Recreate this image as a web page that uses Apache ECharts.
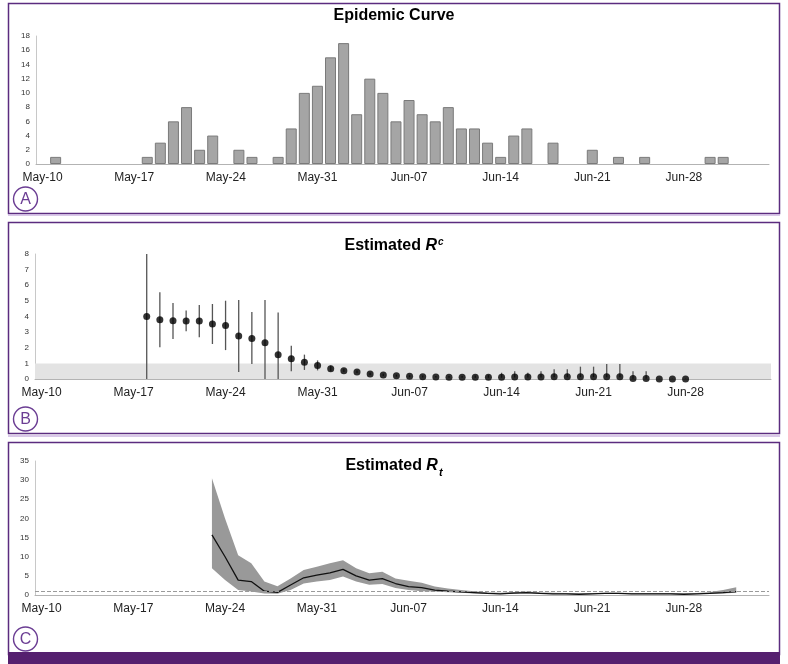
<!DOCTYPE html>
<html>
<head>
<meta charset="utf-8">
<title>Epidemic Curve</title>
<script src="https://cdn.jsdelivr.net/npm/echarts@6/dist/echarts.min.js"></script>
<style>
html, body { margin: 0; padding: 0; background: #fff; }
#chart { width: 788px; height: 664px; }
</style>
</head>
<body>
<div id="chart"></div>
<script>
// x categories: one per day, May-10 .. Jul-04
var days = [
    'May-10', 'May-11', 'May-12', 'May-13', 'May-14', 'May-15', 'May-16', 'May-17', 'May-18', 'May-19',
    'May-20', 'May-21', 'May-22', 'May-23', 'May-24', 'May-25', 'May-26', 'May-27', 'May-28', 'May-29',
    'May-30', 'May-31', 'Jun-01', 'Jun-02', 'Jun-03', 'Jun-04', 'Jun-05', 'Jun-06', 'Jun-07', 'Jun-08',
    'Jun-09', 'Jun-10', 'Jun-11', 'Jun-12', 'Jun-13', 'Jun-14', 'Jun-15', 'Jun-16', 'Jun-17', 'Jun-18',
    'Jun-19', 'Jun-20', 'Jun-21', 'Jun-22', 'Jun-23', 'Jun-24', 'Jun-25', 'Jun-26', 'Jun-27', 'Jun-28',
    'Jun-29', 'Jun-30', 'Jul-01', 'Jul-02', 'Jul-03', 'Jul-04'
];

// panel A - daily cases
var cases = [
    0, 1, 0, 0, 0, 0, 0, 0, 1, 3, 6, 8, 2, 4, 0, 2, 1, 0, 1, 5,
    10, 11, 15, 17, 7, 12, 10, 6, 9, 7, 6, 8, 5, 5, 3, 1, 4, 5, 0, 3,
    0, 0, 2, 0, 1, 0, 1, 0, 0, 0, 0, 1, 1, 0, 0, 0
];

// panel B - estimated Rc, starts at May-18
var rcStart = 8;
var rcMean = [4.0, 3.8, 3.73, 3.71, 3.71, 3.52, 3.43, 2.75, 2.6, 2.32, 1.56, 1.3, 1.07, 0.87, 0.66, 0.53, 0.45, 0.32, 0.26, 0.21,
    0.17, 0.15, 0.13, 0.11, 0.11, 0.11, 0.11, 0.11, 0.13, 0.13, 0.13, 0.15, 0.15, 0.15, 0.15, 0.15, 0.15, 0.04, 0.04, 0, 0, 0];
var rcLow = [0, 2.03, 2.56, 3.05, 2.67, 2.24, 1.85, 0.45, 0.96, 0, 0, 0.49, 0.58, 0.55, 0.49, 0.45, 0.38, 0.25, 0.2, 0.15,
    0.12, 0.1, 0.09, 0.08, 0.08, 0.08, 0.08, 0.08, 0.1, 0.1, 0.1, 0.12, 0.12, 0.12, 0.12, 0.12, 0.12, 0.02, 0.02, 0, 0, 0];
var rcHigh = [8, 5.56, 4.86, 4.39, 4.73, 4.8, 5.01, 5.05, 4.29, 5.05, 4.26, 2.13, 1.56, 1.19, 0.87, 0.65, 0.55, 0.4, 0.33, 0.28,
    0.24, 0.22, 0.2, 0.2, 0.2, 0.22, 0.25, 0.4, 0.49, 0.4, 0.49, 0.62, 0.62, 0.79, 0.79, 0.96, 0.96, 0.49, 0.49, 0.02, 0.02, 0.02];

// panel C - estimated Rt, starts at May-23
var rtStart = 13;
var rtMean = [15.7, 10.0, 3.9, 3.5, 1.0, 0.7, 2.6, 4.5, 5.2, 5.8, 6.7, 5.0, 3.9, 4.3, 3.0, 2.2, 1.9, 1.3, 1.0, 0.8,
    0.6, 0.4, 0.3, 0.5, 0.6, 0.4, 0.3, 0.3, 0.2, 0.3, 0.4, 0.4, 0.3, 0.3, 0.3, 0.3, 0.2, 0.3, 0.4, 0.6, 0.9];
var rtLow = [7.0, 3.9, 1.3, 0.9, 0.4, 0.3, 1.3, 3.0, 3.5, 3.9, 4.8, 3.5, 2.7, 2.9, 1.8, 1.3, 1.0, 0.9, 0.7, 0.6,
    0.4, 0.3, 0.2, 0.3, 0.4, 0.3, 0.2, 0.2, 0.1, 0.2, 0.3, 0.3, 0.2, 0.2, 0.2, 0.2, 0.1, 0.2, 0.3, 0.4, 0.6];
var rtHigh = [30.5, 20.0, 10.4, 8.3, 3.5, 2.3, 4.3, 6.5, 7.4, 8.3, 9.1, 7.0, 5.7, 6.1, 4.3, 3.7, 3.2, 2.2, 1.7, 1.3,
    1.0, 0.7, 0.6, 0.8, 0.9, 0.7, 0.6, 0.5, 0.4, 0.5, 0.6, 0.6, 0.5, 0.5, 0.5, 0.5, 0.4, 0.5, 0.8, 1.3, 2.0];

var FONT = "'Liberation Sans', Arial, sans-serif";
var PURPLE = '#5b2c7f';

// spread a series that starts at some day over the full day list
function pad(arr, start) {
    var out = [];
    for (var i = 0; i < days.length; i++) {
        var k = i - start;
        out.push(k >= 0 && k < arr.length ? arr[k] : '-');
    }
    return out;
}

var rtBandWidth = rtHigh.map(function(v, i) { return +(v - rtLow[i]).toFixed(2); });
var rcBars = rcMean.map(function(v, i) { return [rcStart + i, rcLow[i], rcHigh[i]]; });

function xAxis(idx) {
    return {
        type: 'category',
        gridIndex: idx,
        data: days,
        boundaryGap: true,
        axisLine: { lineStyle: { color: '#b3b3b3', width: 1 } },
        axisTick: { interval: 6, alignWithLabel: false, length: 3, lineStyle: { color: '#b3b3b3' } },
        axisLabel: { interval: 6, margin: 8, fontSize: 12, color: '#222', fontFamily: FONT }
    };
}
function yAxis(idx, max, step) {
    return {
        type: 'value',
        gridIndex: idx,
        min: 0, max: max, interval: step,
        splitLine: { show: false },
        axisLine: { show: true, lineStyle: { color: '#c8c8c8', width: 1 } },
        axisTick: { show: false },
        axisLabel: { fontSize: 8, color: '#333', margin: 6, fontFamily: FONT }
    };
}

function badge(letter, cy) {
    return {
        type: 'group',
        children: [
            { type: 'circle', shape: { cx: 25.5, cy: cy, r: 12 }, style: { fill: '#fff', stroke: '#6b3d93', lineWidth: 1.4 } },
            { type: 'text', x: 25.5, y: cy + 1, style: { text: letter, fill: '#6b3d93', font: "16px 'Liberation Sans Narrow', 'Liberation Sans', sans-serif", align: 'center', verticalAlign: 'middle' } }
        ]
    };
}

var titleRich = {
    b: { fontSize: 16, fontWeight: 'bold', fontFamily: FONT, color: '#000', verticalAlign: 'bottom' },
    bl: { fontSize: 16, fontWeight: 'bold', fontFamily: FONT, color: '#000', verticalAlign: 'bottom', padding: [0, 0, 4, 0] },
    r: { fontSize: 16, fontWeight: 'bold', fontStyle: 'italic', fontFamily: FONT, color: '#000', verticalAlign: 'bottom' },
    rl: { fontSize: 16, fontWeight: 'bold', fontStyle: 'italic', fontFamily: FONT, color: '#000', verticalAlign: 'bottom', padding: [0, 0, 4, 0] },
    sp: { fontSize: 10, fontStyle: 'italic', fontFamily: FONT, color: '#000', verticalAlign: 'bottom', padding: [0, 0, 7, 1] },
    sb: { fontSize: 11, fontWeight: 'bold', fontStyle: 'italic', fontFamily: FONT, color: '#000', verticalAlign: 'bottom', padding: [0, 0, 0, 1] }
};

var option = {
    animation: false,
    backgroundColor: '#fff',
    title: [
        { text: 'Epidemic Curve', left: 'center', top: 8, padding: 0,
          textStyle: { fontSize: 16, fontWeight: 'bold', fontFamily: FONT, color: '#000' } },
        { text: '{b|Estimated }{r|R}{sp|c}', left: 'center', top: 237, padding: 0,
          textStyle: { rich: titleRich } },
        { text: '{bl|Estimated }{rl|R}{sb|t}', left: 'center', top: 458, padding: 0,
          textStyle: { rich: titleRich } }
    ],
    grid: [
        { left: 36, right: 19, top: 36, height: 128, containLabel: false, outerBoundsMode: 'none' },
        { left: 35, right: 17, top: 254, height: 125, containLabel: false, outerBoundsMode: 'none' },
        { left: 35, right: 19, top: 461, height: 134, containLabel: false, outerBoundsMode: 'none' }
    ],
    xAxis: [xAxis(0), xAxis(1), xAxis(2)],
    yAxis: [yAxis(0, 18, 2), yAxis(1, 8, 1), yAxis(2, 35, 5)],
    series: [
        {
            name: 'Cases', type: 'bar', xAxisIndex: 0, yAxisIndex: 0,
            barCategoryGap: '16%',
            itemStyle: { color: '#a5a5a5', borderColor: '#7a7a7a', borderWidth: 1 },
            data: cases.map(function(v) { return v === 0 ? '-' : v; })
        },
        {
            name: 'Rc interval', type: 'custom', xAxisIndex: 1, yAxisIndex: 1,
            encode: { x: 0, y: [1, 2] },
            renderItem: function(params, api) {
                var lo = api.coord([api.value(0), api.value(1)]);
                var hi = api.coord([api.value(0), api.value(2)]);
                return {
                    type: 'line',
                    shape: { x1: lo[0], y1: lo[1], x2: hi[0], y2: hi[1] },
                    style: { stroke: '#555', lineWidth: 1.3 }
                };
            },
            data: rcBars,
            markArea: {
                silent: true,
                itemStyle: { color: '#e3e3e3' },
                data: [[{ yAxis: 0 }, { yAxis: 1 }]]
            },
            z: 2
        },
        {
            name: 'Rc', type: 'scatter', xAxisIndex: 1, yAxisIndex: 1,
            symbol: 'circle', symbolSize: 7,
            itemStyle: { color: '#000' },
            data: pad(rcMean, rcStart),
            z: 3
        },
        {
            name: 'Rt low', type: 'line', xAxisIndex: 2, yAxisIndex: 2,
            stack: 'rt', symbol: 'none',
            lineStyle: { opacity: 0 },
            data: pad(rtLow, rtStart),
            markLine: {
                silent: true, symbol: 'none', label: { show: false },
                lineStyle: { color: '#9a9a9a', type: 'dashed', width: 1 },
                data: [{ yAxis: 1 }]
            }
        },
        {
            name: 'Rt interval', type: 'line', xAxisIndex: 2, yAxisIndex: 2,
            stack: 'rt', symbol: 'none',
            lineStyle: { opacity: 0 },
            areaStyle: { color: '#999', opacity: 1 },
            data: pad(rtBandWidth, rtStart)
        },
        {
            name: 'Rt', type: 'line', xAxisIndex: 2, yAxisIndex: 2,
            symbol: 'none',
            lineStyle: { color: '#111', width: 1.3 },
            data: pad(rtMean, rtStart),
            z: 4
        }
    ],
    graphic: [
        { type: 'rect', shape: { x: 8.5, y: 3.5, width: 771, height: 210 }, style: { fill: 'none', stroke: PURPLE, lineWidth: 1.5 } },
        { type: 'line', shape: { x1: 8, y1: 215, x2: 780, y2: 215 }, style: { stroke: '#cdb6e0', lineWidth: 1.5 } },
        { type: 'rect', shape: { x: 8.5, y: 222.5, width: 771, height: 211 }, style: { fill: 'none', stroke: PURPLE, lineWidth: 1.5 } },
        { type: 'line', shape: { x1: 8, y1: 436, x2: 780, y2: 436 }, style: { stroke: '#cdb6e0', lineWidth: 1.5 } },
        { type: 'rect', shape: { x: 8.5, y: 442.5, width: 771, height: 212 }, style: { fill: 'none', stroke: PURPLE, lineWidth: 1.5 } },
        { type: 'rect', shape: { x: 8, y: 652, width: 772, height: 12 }, style: { fill: '#55206f' } },
        badge('A', 199),
        badge('B', 419),
        badge('C', 639)
    ]
};

var myChart = echarts.init(document.getElementById('chart'));
myChart.setOption(option);
</script>
</body>
</html>
